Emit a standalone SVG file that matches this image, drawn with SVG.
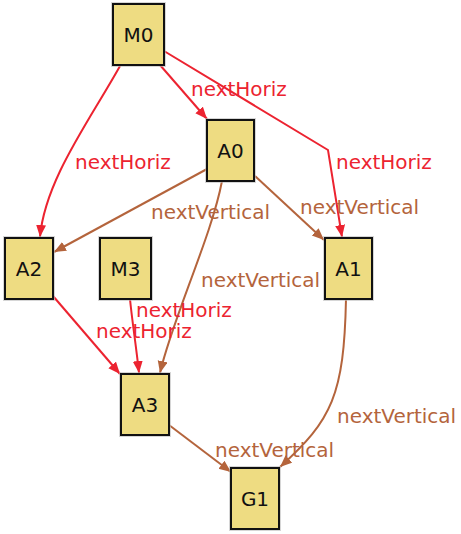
<svg xmlns="http://www.w3.org/2000/svg" width="461" height="534" viewBox="0 0 461 534">
<style>
.node rect.sh{fill:none;stroke:#bbb;stroke-width:4;opacity:0.6}
.node rect.bx{fill:#eedc82;stroke:#111;stroke-width:2}
.node text{font-family:"DejaVu Sans",sans-serif;font-size:20px;fill:#111;text-anchor:middle}
.e{fill:none;stroke-width:2}
.h{stroke:#ec2330}
.v{stroke:#b4643c}
.lh{font-family:"DejaVu Sans",sans-serif;font-size:20px;fill:#ec2330}
.lv{font-family:"DejaVu Sans",sans-serif;font-size:20px;fill:#b4643c}
</style>
<defs>
<marker id="ah" markerUnits="userSpaceOnUse" markerWidth="14" markerHeight="12" refX="12" refY="5" orient="auto"><path d="M0,0 L12,5 L0,10 Z" fill="#ec2330"/></marker>
<marker id="av" markerUnits="userSpaceOnUse" markerWidth="14" markerHeight="12" refX="12" refY="5" orient="auto"><path d="M0,0 L12,5 L0,10 Z" fill="#b4643c"/></marker>
</defs>
<rect width="461" height="534" fill="#fff"/>
<g id="connectors">
<path class="e h" d="M160,65 L207,119" marker-end="url(#ah)"/>
<path class="e h" d="M164,51 L328,150 L342,237" marker-end="url(#ah)"/>
<path class="e h" d="M120,66 C90,120 45,180 40,237" marker-end="url(#ah)"/>
<path class="e v" d="M207,169 L54,252" marker-end="url(#av)"/>
<path class="e v" d="M255,176 L324,240" marker-end="url(#av)"/>
<path class="e v" d="M222,181 C212,235 172,320 160,373" marker-end="url(#av)"/>
<path class="e h" d="M130,299 C132,320 136,345 139,373" marker-end="url(#ah)"/>
<path class="e h" d="M53,296 L120,374" marker-end="url(#ah)"/>
<path class="e v" d="M346,299 C344,395 332,420 280,467" marker-end="url(#av)"/>
<path class="e v" d="M169,425 L231,472" marker-end="url(#av)"/>
<text class="lh" x="191" y="96">nextHoriz</text>
<text class="lh" x="336" y="169">nextHoriz</text>
<text class="lh" x="75" y="169">nextHoriz</text>
<text class="lv" x="151" y="219">nextVertical</text>
<text class="lv" x="300" y="214">nextVertical</text>
<text class="lv" x="201" y="287">nextVertical</text>
<text class="lh" x="136" y="317">nextHoriz</text>
<text class="lh" x="96" y="338">nextHoriz</text>
<text class="lv" x="337" y="423">nextVertical</text>
<text class="lv" x="215" y="457">nextVertical</text>
</g>
<g id="M0" class="node"><rect class="sh" x="113" y="4" width="51" height="61"/><rect class="bx" x="113" y="4" width="51" height="61"/><text x="138.5" y="42">M0</text></g>
<g id="A0" class="node"><rect class="sh" x="207" y="120" width="47" height="61"/><rect class="bx" x="207" y="120" width="47" height="61"/><text x="230.5" y="158">A0</text></g>
<g id="A1" class="node"><rect class="sh" x="325" y="238" width="47" height="61"/><rect class="bx" x="325" y="238" width="47" height="61"/><text x="348.5" y="276">A1</text></g>
<g id="A2" class="node"><rect class="sh" x="5" y="238" width="48" height="61"/><rect class="bx" x="5" y="238" width="48" height="61"/><text x="29" y="276">A2</text></g>
<g id="M3" class="node"><rect class="sh" x="100" y="238" width="51" height="61"/><rect class="bx" x="100" y="238" width="51" height="61"/><text x="125.5" y="276">M3</text></g>
<g id="A3" class="node"><rect class="sh" x="121" y="374" width="48" height="61"/><rect class="bx" x="121" y="374" width="48" height="61"/><text x="145" y="412">A3</text></g>
<g id="G1" class="node"><rect class="sh" x="231" y="468" width="48" height="61"/><rect class="bx" x="231" y="468" width="48" height="61"/><text x="255" y="506">G1</text></g>
</svg>
